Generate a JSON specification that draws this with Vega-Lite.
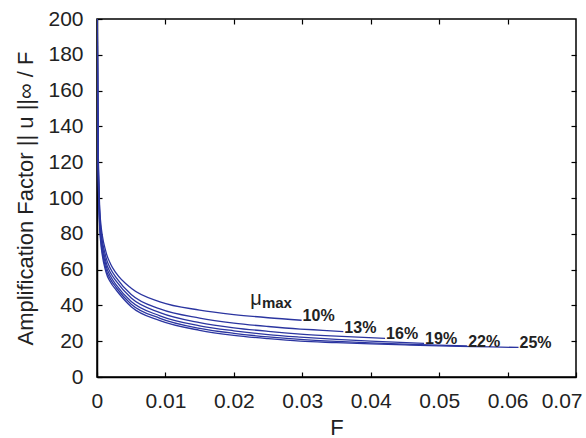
{
  "$schema": "https://vega.github.io/schema/vega-lite/v6.json",
  "autosize": {"type": "none"},
  "width": 479,
  "height": 358,
  "padding": {"left": 97, "top": 19, "right": 10, "bottom": 61},
  "background": "white",
  "config": {
    "font": "Liberation Sans",
    "view": {"stroke": "black", "strokeWidth": 1.5},
    "axis": {"grid": false, "domainColor": "black", "domainWidth": 1.5, "tickColor": "black", "tickWidth": 1.2, "labelColor": "#222", "titleColor": "#222", "labelFontSize": 21, "titleFontSize": 22, "titleFontWeight": "normal", "labelFlush": false}
  },
  "datasets": {
    "curves": [
      {"mu": "10%", "F": 0.00003, "A": 215}, {"mu": "10%", "F": 0.0001, "A": 158}, {"mu": "10%", "F": 0.0002, "A": 122}, {"mu": "10%", "F": 0.0005, "A": 88}, {"mu": "10%", "F": 0.0013, "A": 70}, {"mu": "10%", "F": 0.002, "A": 63}, {"mu": "10%", "F": 0.0028, "A": 58}, {"mu": "10%", "F": 0.005, "A": 49.6}, {"mu": "10%", "F": 0.0092, "A": 42}, {"mu": "10%", "F": 0.015, "A": 37.4}, {"mu": "10%", "F": 0.02, "A": 34.9}, {"mu": "10%", "F": 0.025, "A": 33.1}, {"mu": "10%", "F": 0.0299, "A": 31.7},
      {"mu": "13%", "F": 0.00003, "A": 213}, {"mu": "13%", "F": 0.0001, "A": 155}, {"mu": "13%", "F": 0.0002, "A": 119}, {"mu": "13%", "F": 0.0005, "A": 85}, {"mu": "13%", "F": 0.0013, "A": 67}, {"mu": "13%", "F": 0.002, "A": 60.3}, {"mu": "13%", "F": 0.0028, "A": 55.5}, {"mu": "13%", "F": 0.005, "A": 46.1}, {"mu": "13%", "F": 0.0092, "A": 38}, {"mu": "13%", "F": 0.015, "A": 32.9}, {"mu": "13%", "F": 0.02, "A": 30.1}, {"mu": "13%", "F": 0.025, "A": 28.2}, {"mu": "13%", "F": 0.0297, "A": 26.8}, {"mu": "13%", "F": 0.033, "A": 26.1}, {"mu": "13%", "F": 0.036, "A": 25.4},
      {"mu": "16%", "F": 0.00003, "A": 211}, {"mu": "16%", "F": 0.0001, "A": 152}, {"mu": "16%", "F": 0.0002, "A": 116}, {"mu": "16%", "F": 0.0005, "A": 83}, {"mu": "16%", "F": 0.0013, "A": 64.5}, {"mu": "16%", "F": 0.002, "A": 58.1}, {"mu": "16%", "F": 0.0028, "A": 53.5}, {"mu": "16%", "F": 0.005, "A": 44.1}, {"mu": "16%", "F": 0.0092, "A": 36}, {"mu": "16%", "F": 0.015, "A": 30.4}, {"mu": "16%", "F": 0.02, "A": 27.5}, {"mu": "16%", "F": 0.025, "A": 25.5}, {"mu": "16%", "F": 0.0297, "A": 24}, {"mu": "16%", "F": 0.035, "A": 22.8}, {"mu": "16%", "F": 0.0421, "A": 21.6},
      {"mu": "19%", "F": 0.00003, "A": 209}, {"mu": "19%", "F": 0.0001, "A": 149}, {"mu": "19%", "F": 0.0002, "A": 113}, {"mu": "19%", "F": 0.0005, "A": 81}, {"mu": "19%", "F": 0.0013, "A": 62.5}, {"mu": "19%", "F": 0.002, "A": 56.1}, {"mu": "19%", "F": 0.0028, "A": 51.5}, {"mu": "19%", "F": 0.005, "A": 42.2}, {"mu": "19%", "F": 0.0092, "A": 34.2}, {"mu": "19%", "F": 0.015, "A": 28.6}, {"mu": "19%", "F": 0.02, "A": 25.8}, {"mu": "19%", "F": 0.025, "A": 23.7}, {"mu": "19%", "F": 0.0297, "A": 22.3}, {"mu": "19%", "F": 0.035, "A": 21.0}, {"mu": "19%", "F": 0.04, "A": 20.0}, {"mu": "19%", "F": 0.0478, "A": 18.8},
      {"mu": "22%", "F": 0.00003, "A": 207}, {"mu": "22%", "F": 0.0001, "A": 146}, {"mu": "22%", "F": 0.0002, "A": 110}, {"mu": "22%", "F": 0.0005, "A": 79}, {"mu": "22%", "F": 0.0013, "A": 60.5}, {"mu": "22%", "F": 0.002, "A": 54.4}, {"mu": "22%", "F": 0.0028, "A": 50}, {"mu": "22%", "F": 0.005, "A": 40.7}, {"mu": "22%", "F": 0.0092, "A": 32.8}, {"mu": "22%", "F": 0.015, "A": 27.2}, {"mu": "22%", "F": 0.02, "A": 24.4}, {"mu": "22%", "F": 0.025, "A": 22.4}, {"mu": "22%", "F": 0.0297, "A": 21}, {"mu": "22%", "F": 0.035, "A": 19.9}, {"mu": "22%", "F": 0.04, "A": 19.1}, {"mu": "22%", "F": 0.045, "A": 18.4}, {"mu": "22%", "F": 0.05, "A": 17.8}, {"mu": "22%", "F": 0.0541, "A": 17.3},
      {"mu": "25%", "F": 0.00003, "A": 205}, {"mu": "25%", "F": 0.0001, "A": 143}, {"mu": "25%", "F": 0.0002, "A": 107}, {"mu": "25%", "F": 0.0005, "A": 77}, {"mu": "25%", "F": 0.0013, "A": 58.8}, {"mu": "25%", "F": 0.002, "A": 52.8}, {"mu": "25%", "F": 0.0028, "A": 48.6}, {"mu": "25%", "F": 0.005, "A": 39.3}, {"mu": "25%", "F": 0.0092, "A": 31.5}, {"mu": "25%", "F": 0.015, "A": 26.1}, {"mu": "25%", "F": 0.02, "A": 23.3}, {"mu": "25%", "F": 0.025, "A": 21.4}, {"mu": "25%", "F": 0.0297, "A": 20}, {"mu": "25%", "F": 0.035, "A": 19.2}, {"mu": "25%", "F": 0.04, "A": 18.5}, {"mu": "25%", "F": 0.045, "A": 17.9}, {"mu": "25%", "F": 0.05, "A": 17.4}, {"mu": "25%", "F": 0.055, "A": 17.0}, {"mu": "25%", "F": 0.0616, "A": 16.5}
    ],
    "labels": [
      {"mu": "10%", "F": 0.0299, "A": 31.7},
      {"mu": "13%", "F": 0.036, "A": 25.4},
      {"mu": "16%", "F": 0.0421, "A": 21.6},
      {"mu": "19%", "F": 0.0478, "A": 18.8},
      {"mu": "22%", "F": 0.0541, "A": 17.3},
      {"mu": "25%", "F": 0.0616, "A": 16.5}
    ],
    "mutext": [
      {"part": "μ", "F": 0.0224, "A": 43.8},
      {"part": "max", "F": 0.0241, "A": 41.6}
    ]
  },
  "layer": [
    {
      "data": {"name": "curves"},
      "mark": {"type": "line", "interpolate": "monotone", "color": "#2b35a0", "strokeWidth": 1.3, "clip": true},
      "encoding": {
        "x": {"field": "F", "type": "quantitative", "scale": {"domain": [0, 0.07], "nice": false},
              "axis": {"orient": "bottom", "values": [0, 0.01, 0.02, 0.03, 0.04, 0.05, 0.06, 0.07], "format": ".2~f", "tickSize": -5, "labelPadding": 18, "labelFlush": true, "labelFlushOffset": 6, "title": "F", "titlePadding": 6}},
        "y": {"field": "A", "type": "quantitative", "scale": {"domain": [0, 200], "nice": false},
              "axis": {"orient": "left", "values": [0, 20, 40, 60, 80, 100, 120, 140, 160, 180, 200], "tickSize": -5, "labelPadding": 19, "title": "Amplification Factor || u ||∞ / F", "titlePadding": 10}},
        "detail": {"field": "mu"}
      }
    },
    {
      "data": {"name": "labels"},
      "mark": {"type": "text", "align": "left", "baseline": "middle", "dx": 1, "dy": -4, "fontWeight": "bold", "fontSize": 16, "color": "#222"},
      "encoding": {
        "x": {"field": "F", "type": "quantitative", "axis": null},
        "y": {"field": "A", "type": "quantitative", "axis": null},
        "text": {"field": "mu"}
      }
    },
    {
      "data": {"name": "mutext"},
      "transform": [{"filter": "datum.part == 'μ'"}],
      "mark": {"type": "text", "align": "left", "baseline": "middle", "fontSize": 20, "color": "#222"},
      "encoding": {
        "x": {"field": "F", "type": "quantitative", "axis": null},
        "y": {"field": "A", "type": "quantitative", "axis": null},
        "text": {"field": "part"}
      }
    },
    {
      "data": {"name": "mutext"},
      "transform": [{"filter": "datum.part == 'max'"}],
      "mark": {"type": "text", "align": "left", "baseline": "middle", "fontSize": 15, "fontWeight": "bold", "color": "#222"},
      "encoding": {
        "x": {"field": "F", "type": "quantitative", "axis": null},
        "y": {"field": "A", "type": "quantitative", "axis": null},
        "text": {"field": "part"}
      }
    },
    {
      "data": {"name": "labels"},
      "mark": {"type": "point", "opacity": 0},
      "encoding": {
        "x": {"field": "F", "type": "quantitative",
              "axis": {"orient": "top", "values": [0.01, 0.02, 0.03, 0.04, 0.05, 0.06], "tickSize": -5, "labels": false, "title": null, "domain": false}},
        "y": {"field": "A", "type": "quantitative",
              "axis": {"orient": "right", "values": [20, 40, 60, 80, 100, 120, 140, 160, 180], "tickSize": -5, "labels": false, "title": null, "domain": false}}
      }
    }
  ],
  "resolve": {"axis": {"x": "independent", "y": "independent"}}
}
